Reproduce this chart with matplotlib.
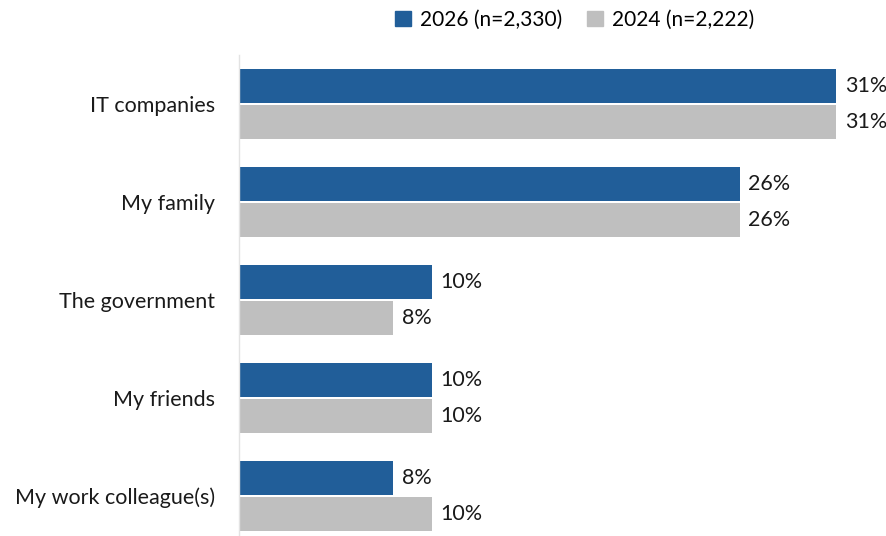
import matplotlib.pyplot as plt
import numpy as np
from matplotlib.patches import Patch

plt.rcParams['font.family'] = ['Lato', 'DejaVu Sans']

categories = ["IT companies", "My family", "The government", "My friends", "My work colleague(s)"]
vals_2026 = [31, 26, 10, 10, 8]
vals_2024 = [31, 26, 8, 10, 10]
series_names = ["2026 (n=2,330)", "2024 (n=2,222)"]

blue = "#215E99"
grey = "#BFBFBF"

fig = plt.figure(figsize=(8.87, 5.36), dpi=100)
ax = fig.add_axes([239 / 887, 0, 1 - 239 / 887, (536 - 55) / 536])

ypos = np.arange(len(categories))
h = 0.35
ax.barh(ypos - 0.185, vals_2026, height=h, color=blue)
ax.barh(ypos + 0.185, vals_2024, height=h, color=grey)

# value labels just past the bar ends
for y, v in zip(ypos, vals_2026):
    ax.text(v + 0.45, y - 0.185, f"{v}%", va="center", ha="left", fontsize=15.5, color="#1a1a1a")
for y, v in zip(ypos, vals_2024):
    ax.text(v + 0.45, y + 0.185, f"{v}%", va="center", ha="left", fontsize=15.5, color="#1a1a1a")

ax.set_xlim(0, (887 - 239) / ((836 - 239) / 31))
ax.set_ylim(4 + (536 - 496) / 98, -0.5)
ax.set_yticks(ypos)
ax.set_yticklabels(categories, fontsize=15.5, color="#1a1a1a")
ax.tick_params(axis="y", length=0, pad=17)
ax.set_xticks([])
for s in ["top", "right", "bottom"]:
    ax.spines[s].set_visible(False)
ax.spines["left"].set_color("#E3E3E3")
ax.spines["left"].set_linewidth(1)

handles = [Patch(color=blue), Patch(color=grey)]
fig.legend(handles, series_names, loc="center", bbox_to_anchor=(575 / 887, 1 - 20 / 536),
           ncol=2, frameon=False, fontsize=15, handlelength=0.75, handleheight=0.75,
           handletextpad=0.45, columnspacing=1.2)

fig.savefig("out.png", dpi=100)
